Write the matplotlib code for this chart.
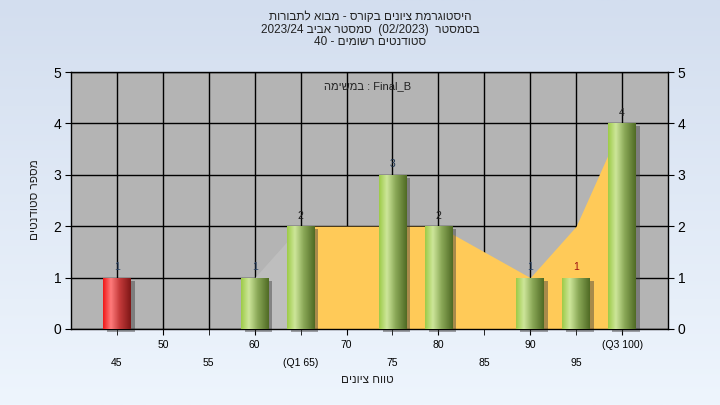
import numpy as np
import matplotlib
matplotlib.use('Agg')
import matplotlib.pyplot as plt
import matplotlib.transforms as mtransforms
from matplotlib.colors import LinearSegmentedColormap

# data
grades = [45, 50, 55, 60, 65, 70, 75, 80, 85, 90, 95, 100]
tick_labels = ['45', '50', '55', '60', '(Q1 65)', '70', '75', '80', '85', '90', '95', '(Q3 100)']
counts = [1, 0, 0, 1, 2, 0, 3, 2, 0, 1, 1, 4]
failed = [True, False, False, False, False, False, False, False, False, False, False, False]
count_label_colors = ['#2c4566', None, None, '#2c4566', '#202020', None, '#1f3550',
                      '#202020', None, '#2c4566', '#a01010', '#202020']
area_grades = [60, 65, 70, 75, 80, 90, 95, 100]
area_values = [1, 2, 2, 2, 2, 1, 2, 4]

# Hebrew strings written in visual order (matplotlib draws left to right)
title_lines = ['תורובתל אובמ - סרוקב םינויצ תמרגוטסיה',
               '2023/24 ביבא רטסמס  (02/2023)  רטסמסב',
               '40 - םימושר םיטנדוטס']
task_text = 'המישמב : Final_B'
xlabel_text = 'םינויצ חווט'
ylabel_text = 'םיטנדוטס רפסמ'

plt.rcParams['font.family'] = ['Liberation Sans', 'DejaVu Sans']

fig = plt.figure(figsize=(7.2, 4.05), dpi=100)

# light blue gradient background
bg = fig.add_axes([0, 0, 1, 1], zorder=-10)
bg.imshow(np.linspace(0, 1, 256).reshape(-1, 1), aspect='auto',
          cmap=LinearSegmentedColormap.from_list('bg', ['#d3deef', '#eef5fd']),
          extent=[0, 1, 0, 1])
bg.axis('off')

ax = fig.add_axes([71/720, 1-329/405, 597/720, 257/405])
ax.set_facecolor('#b4b4b4')

x = np.arange(len(grades))
ax_x = np.array([grades.index(g) for g in area_grades])
area_vals = np.array(area_values)

ax.fill_between(ax_x, 0, area_vals, where=ax_x >= grades.index(65),
                color='#ffca58', linewidth=0, zorder=1)
ax.fill_between(ax_x, 0, area_vals, where=ax_x <= grades.index(65),
                color='#bebebe', linewidth=0, zorder=1)

width = 0.6
shadow_tr = mtransforms.offset_copy(ax.transData, fig=fig, x=4, y=-3, units='dots')
shadows = ax.bar(x, counts, width, color='#3c3c3c', alpha=0.45, zorder=2.5, linewidth=0)
for s in shadows:
    s.set_transform(shadow_tr)
    s.set_clip_on(False)
    if s.get_height() == 0:
        s.set_visible(False)

bars = ax.bar(x, counts, width, color='none', linewidth=0, zorder=3)

green = LinearSegmentedColormap.from_list('g', [(0, '#9dcb47'), (0.28, '#cde69a'),
                                              (0.6, '#8aa857'), (1, '#4f6a24')])
red = LinearSegmentedColormap.from_list('r', [(0, '#f01818'), (0.28, '#ff7b7b'),
                                            (0.6, '#c43a3a'), (1, '#7e1616')])
grad = np.linspace(0, 1, 128).reshape(1, -1)
for b, is_red in zip(bars, failed):
    h = b.get_height()
    if h == 0:
        continue
    x0 = b.get_x()
    im = ax.imshow(grad, extent=[x0, x0 + b.get_width(), 0, h], aspect='auto',
                   cmap=red if is_red else green, zorder=3, interpolation='bilinear')
    im.set_clip_path(b)

for i, c in enumerate(counts):
    if c == 0:
        continue
    ax.annotate(str(c), (x[i], c), xytext=(0, 4), textcoords='offset points',
                ha='center', va='bottom', fontsize=7.5, color=count_label_colors[i], zorder=5)

ax.set_xlim(-1, len(grades))
ax.set_ylim(0, 5)
ax.set_yticks(range(6))
ax.set_axisbelow(True)
ax.grid(True, color='black', linewidth=1)

# two rows of x labels: odd ones upper, even ones lower
ax.set_xticks(x[1::2], [tick_labels[i] for i in x[1::2]])
ax.set_xticks(x[0::2], [tick_labels[i] for i in x[0::2]], minor=True)
ax.tick_params(axis='x', which='major', direction='out', length=4, pad=4, labelsize=7.5)
ax.tick_params(axis='x', which='minor', direction='out', length=4, pad=17, labelsize=7.5)
ax.xaxis.grid(True, which='minor', color='black', linewidth=1)
ax.tick_params(axis='y', direction='out', length=4, pad=3, labelsize=10,
               right=True, labelright=True)
for sp in ax.spines.values():
    sp.set_color('black')
    sp.set_linewidth(1)

ax.text(0.496, 0.945, task_text, transform=ax.transAxes, ha='center', va='center',
        fontsize=8, color='#222222', zorder=6)

for i, (line, ypx) in enumerate(zip(title_lines, [17, 30, 42])):
    fig.text(370/720, 1 - ypx/405, line, ha='center', va='center', fontsize=8.5, color='#222222')

fig.text(367/720, 1 - 380/405, xlabel_text, ha='center', va='center', fontsize=8.5, color='#222222')
fig.text(35/720, 1 - 200/405, ylabel_text, ha='center', va='center', rotation=90,
         fontsize=8.5, color='#222222')

fig.savefig('out.png', dpi=100)
